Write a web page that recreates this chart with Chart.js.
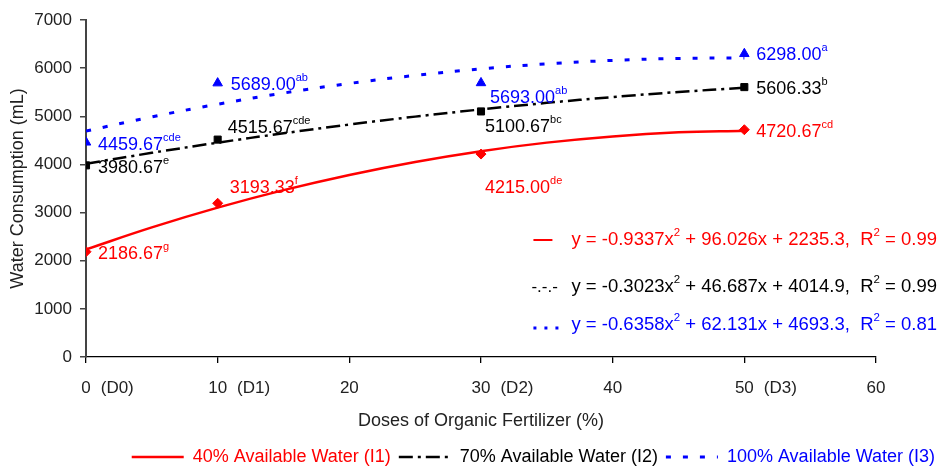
<!DOCTYPE html>
<html>
<head>
<meta charset="utf-8">
<script src="https://cdn.jsdelivr.net/npm/chart.js@4"></script>
<style>
  html, body { margin: 0; padding: 0; background: #fff; }
</style>
</head>
<body>
<canvas id="chart" width="943" height="469"></canvas>
<script>
// doses of organic fertilizer (%) and measured water consumption (mL)
const doses = [0, 10, 30, 50];
const doseCodes = ['(D0)', '(D1)', '(D2)', '(D3)'];
const waterI1 = [2186.67, 3193.33, 4215.00, 4720.67];
const waterI2 = [3980.67, 4515.67, 5100.67, 5606.33];
const waterI3 = [4459.67, 5689.00, 5693.00, 6298.00];
const lettersI1 = ['g', 'f', 'de', 'cd'];
const lettersI2 = ['e', 'cde', 'bc', 'b'];
const lettersI3 = ['cde', 'ab', 'ab', 'a'];

// trend curves
const trendX = [0, 5, 10, 15, 20, 25, 30, 35, 40, 45, 50];
const trendI1 = [2235, 2692, 3102, 3466, 3782, 4052, 4276, 4453, 4582, 4666, 4702];
const trendI2 = [4015, 4241, 4452, 4647, 4828, 4993, 5143, 5279, 5399, 5504, 5594];
const trendI3 = [4693, 4988, 5251, 5482, 5682, 5849, 5985, 6089, 6161, 6202, 6210];

const seriesNames = ['40% Available Water (I1)', '70% Available Water (I2)', '100% Available Water (I3)'];
const equations = [
  'y = -0.9337x^2 + 96.026x + 2235.3,  R^2 = 0.99',
  'y = -0.3023x^2 + 46.687x + 4014.9,  R^2 = 0.99',
  'y = -0.6358x^2 + 62.131x + 4693.3,  R^2 = 0.81'
];

const RED = '#ff0000', BLACK = '#000000', BLUE = '#0000ff';
const FONT = '"Liberation Sans", Arial, sans-serif';

// where each value label sits relative to its marker
const labelOffsets = [
  [[12, 2], [12, -15], [4, 34], [12, 2]],
  [[12, 3], [10, -12], [4, 16], [12, 2]],
  [[12, 3], [13, 2], [9, 15], [12, 1]]
];

const pts = (xs, ys) => xs.map((x, i) => ({ x: x, y: ys[i] }));

// splits text where '^' marks a superscript run
function richParts(str) {
  const parts = [];
  const chunks = str.split('^');
  parts.push([chunks[0], false]);
  for (let i = 1; i < chunks.length; i++) {
    const m = chunks[i].match(/^(\S+?)(\s.*|,.*|$)/);
    let sup = chunks[i], rest = '';
    if (m) { sup = m[1]; rest = m[2]; }
    parts.push([sup, true]);
    if (rest) parts.push([rest, false]);
  }
  return parts;
}

function richWidth(ctx, parts, size, supSize) {
  let w = 0;
  parts.forEach(p => {
    ctx.font = (p[1] ? supSize : size) + 'px ' + FONT;
    w += ctx.measureText(p[0]).width;
  });
  return w;
}

function drawRich(ctx, parts, x, y, size, supSize) {
  ctx.textBaseline = 'middle';
  ctx.textAlign = 'left';
  parts.forEach(p => {
    ctx.font = (p[1] ? supSize : size) + 'px ' + FONT;
    ctx.fillText(p[0], x, p[1] ? y - 7 : y);
    x += ctx.measureText(p[0]).width;
  });
}

const annotations = {
  id: 'annotations',
  afterDatasetsDraw(chart) {
    const ctx = chart.ctx;
    const values = [waterI1, waterI2, waterI3];
    const letters = [lettersI1, lettersI2, lettersI3];
    const colors = [RED, BLACK, BLUE];
    ctx.save();
    // value labels with significance letters
    for (let s = 0; s < 3; s++) {
      const meta = chart.getDatasetMeta(s + 3);
      meta.data.forEach((pt, j) => {
        const off = labelOffsets[s][j];
        ctx.fillStyle = colors[s];
        drawRich(ctx, [[values[s][j].toFixed(2), false], [letters[s][j], true]],
          pt.x + off[0], pt.y + off[1], 18, 11);
      });
    }

    // dose codes next to the x tick numbers
    const xs = chart.scales.x;
    ctx.font = '17px ' + FONT;
    ctx.fillStyle = '#222';
    ctx.textBaseline = 'middle';
    ctx.textAlign = 'left';
    doses.forEach((d, i) => {
      const px = xs.getPixelForValue(d);
      const w = ctx.measureText(String(d)).width;
      ctx.fillText(doseCodes[i], px + w / 2 + 10, xs.top + 31);
    });

    // trend equations
    const eqY = [240, 287, 325];
    const rightEdge = 937;
    for (let s = 0; s < 3; s++) {
      const parts = richParts(equations[s]);
      const w = richWidth(ctx, parts, 18.5, 11.5);
      const x0 = rightEdge - w;
      ctx.fillStyle = colors[s];
      drawRich(ctx, parts, x0, eqY[s], 18.5, 11.5);
      ctx.strokeStyle = colors[s];
      ctx.beginPath();
      if (s === 0) {
        ctx.lineWidth = 2;
        ctx.setLineDash([]);
        ctx.moveTo(x0 - 38, eqY[s]); ctx.lineTo(x0 - 19, eqY[s]);
        ctx.stroke();
      } else if (s === 1) {
        ctx.font = '17px ' + FONT;
        ctx.fillText('-.-.-', x0 - 40, eqY[s]);
      } else {
        ctx.lineWidth = 3;
        ctx.setLineDash([3, 8]);
        ctx.moveTo(x0 - 38, eqY[s] + 3); ctx.lineTo(x0 - 10, eqY[s] + 3);
        ctx.stroke();
      }
    }
    ctx.restore();
  }
};

const chart = new Chart(document.getElementById('chart'), {
  type: 'line',
  data: {
    datasets: [
      { label: seriesNames[0], data: pts(trendX, trendI1), borderColor: RED, backgroundColor: RED,
        borderWidth: 2.5, pointRadius: 0, pointStyle: 'line', tension: 0.4, order: 2 },
      { label: seriesNames[1], data: pts(trendX, trendI2), borderColor: BLACK, backgroundColor: BLACK,
        borderWidth: 2.5, borderDash: [14, 5, 3, 5], pointRadius: 0, pointStyle: 'line', tension: 0.4, order: 2 },
      { label: seriesNames[2], data: pts(trendX, trendI3), borderColor: BLUE, backgroundColor: BLUE,
        borderWidth: 3, borderDash: [5, 12], pointRadius: 0, pointStyle: 'line', tension: 0.4, order: 2 },
      { label: 'I1', data: pts(doses, waterI1), showLine: false, pointStyle: 'rectRot', pointRadius: 5,
        backgroundColor: RED, borderColor: RED, order: 1 },
      { label: 'I2', data: pts(doses, waterI2), showLine: false, pointStyle: 'rect', pointRadius: 5,
        backgroundColor: BLACK, borderColor: BLACK, order: 1 },
      { label: 'I3', data: pts(doses, waterI3), showLine: false, pointStyle: 'triangle', pointRadius: 5.5,
        backgroundColor: BLUE, borderColor: BLUE, order: 1 }
    ]
  },
  options: {
    responsive: false,
    animation: false,
    devicePixelRatio: 1,
    layout: { padding: { top: 20, right: 0, bottom: -7, left: 0 } },
    scales: {
      x: {
        type: 'linear',
        min: 0, max: 60,
        grid: { drawOnChartArea: false, drawTicks: true, tickLength: 6, color: '#000', lineWidth: 1.3 },
        border: { color: '#000', width: 1.3 },
        ticks: { stepSize: 10, padding: 15, color: '#222', font: { size: 17, family: FONT } },
        title: { display: true, text: 'Doses of Organic Fertilizer (%)', color: '#222',
          font: { size: 18, family: FONT }, padding: { top: 0, bottom: 8 } },
        afterFit(s) { s.height = 83; }
      },
      y: {
        min: 0, max: 7000,
        grid: { drawOnChartArea: false, drawTicks: true, tickLength: 6, color: '#444', lineWidth: 1.5 },
        border: { color: '#444', width: 2 },
        ticks: { stepSize: 1000, padding: 8, color: '#222', font: { size: 17, family: FONT },
          callback: v => String(v) },
        title: { display: true, text: 'Water Consumption (mL)', color: '#222',
          font: { size: 18, family: FONT }, padding: { top: 7, bottom: 0 } },
        afterFit(s) { s.width = 86; }
      },
      yRight: {
        type: 'linear',
        position: 'right',
        display: true,
        grid: { display: false },
        border: { display: false },
        ticks: { display: false },
        afterFit(s) { s.width = 67; }
      }
    },
    plugins: {
      legend: {
        position: 'bottom',
        align: 'end',
        labels: {
          usePointStyle: true,
          pointStyleWidth: 52,
          padding: 8,
          font: { size: 18, family: FONT },
          filter: item => item.datasetIndex < 3,
          generateLabels(chart) {
            const items = Chart.defaults.plugins.legend.labels.generateLabels(chart);
            items.forEach(it => {
              const ds = chart.data.datasets[it.datasetIndex];
              it.fontColor = ds.borderColor;
              it.strokeStyle = ds.borderColor;
              it.lineDash = ds.borderDash || [];
              it.lineWidth = ds.borderWidth;
              it.pointStyle = 'line';
            });
            return items;
          }
        }
      },
      tooltip: { enabled: false }
    }
  },
  plugins: [annotations]
});
</script>
</body>
</html>
